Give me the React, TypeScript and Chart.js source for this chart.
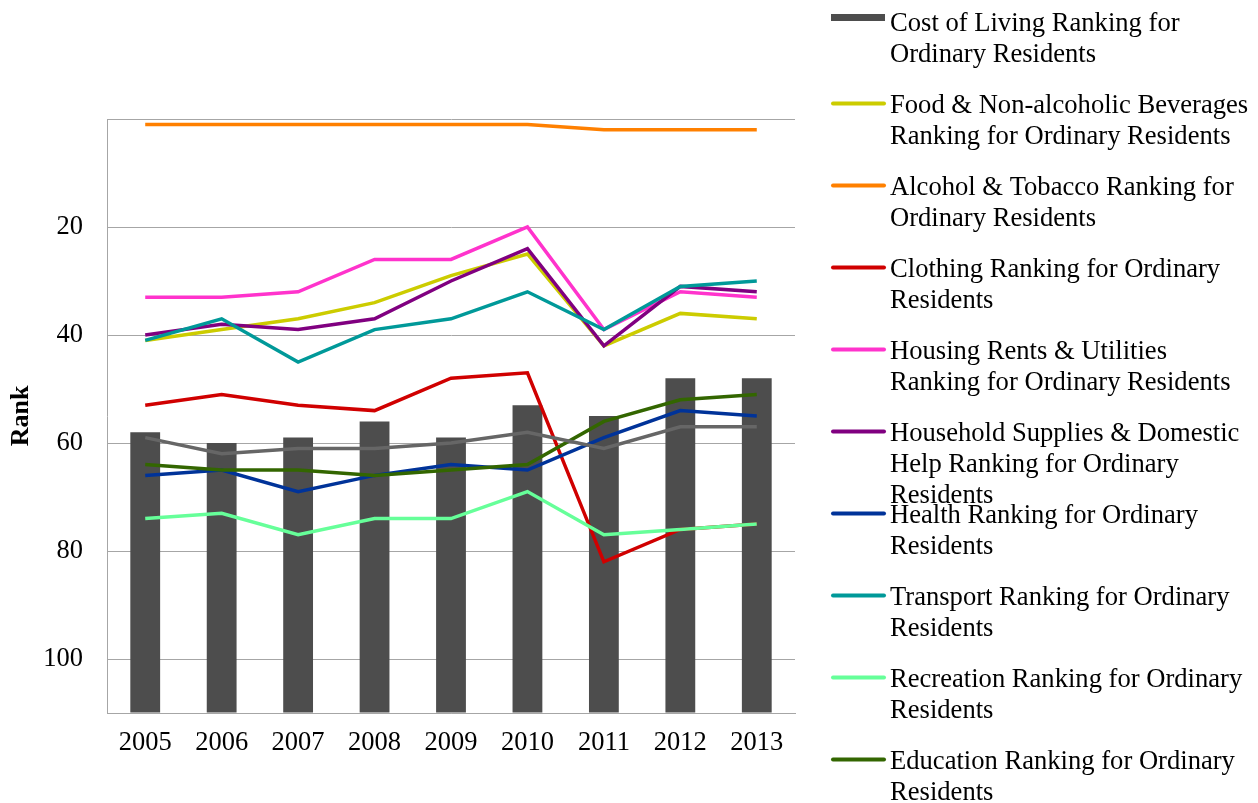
import React, { useEffect, useRef } from "react";
import { Chart, registerables } from "chart.js";

Chart.register(...registerables);

const years = ["2005", "2006", "2007", "2008", "2009", "2010", "2011", "2012", "2013"];

const costOfLiving = [58, 60, 59, 56, 59, 53, 55, 48, 48];
const foodBeverages = [41, 39, 37, 34, 29, 25, 42, 36, 37];
const alcoholTobacco = [1, 1, 1, 1, 1, 1, 2, 2, 2];
const clothing = [53, 51, 53, 54, 48, 47, 82, 76, 75];
const housingRents = [33, 33, 32, 26, 26, 20, 39, 32, 33];
const householdSupplies = [40, 38, 39, 37, 30, 24, 42, 31, 32];
const health = [66, 65, 69, 66, 64, 65, 59, 54, 55];
const transport = [41, 37, 45, 39, 37, 32, 39, 31, 30];
const recreation = [74, 73, 77, 74, 74, 69, 77, 76, 75];
const education = [64, 65, 65, 66, 65, 64, 56, 52, 51];
const miscellaneous = [59, 62, 61, 61, 60, 58, 61, 57, 57];

const rankMin = 0;
const rankMax = 110;
const rankStep = 20;

const legendLines: string[][] = [
  ["Cost of Living Ranking for", "Ordinary Residents"],
  ["Food & Non-alcoholic Beverages", "Ranking for Ordinary Residents"],
  ["Alcohol & Tobacco Ranking for", "Ordinary Residents"],
  ["Clothing Ranking for Ordinary", "Residents"],
  ["Housing Rents & Utilities", "Ranking for Ordinary Residents"],
  ["Household Supplies & Domestic", "Help Ranking for Ordinary", "Residents"],
  ["Health Ranking for Ordinary", "Residents"],
  ["Transport Ranking for Ordinary", "Residents"],
  ["Recreation Ranking for Ordinary", "Residents"],
  ["Education Ranking for Ordinary", "Residents"],
];

const FONT = "'Times New Roman', 'Liberation Serif', serif";

const lineSeries = [
  { label: legendLines[1].join(" "), data: foodBeverages, color: "#CCCC00", legend: 1 },
  { label: legendLines[2].join(" "), data: alcoholTobacco, color: "#FF8000", legend: 2 },
  { label: legendLines[3].join(" "), data: clothing, color: "#D00000", legend: 3 },
  { label: legendLines[4].join(" "), data: housingRents, color: "#FF33CC", legend: 4 },
  { label: legendLines[5].join(" "), data: householdSupplies, color: "#800080", legend: 5 },
  { label: legendLines[6].join(" "), data: health, color: "#003399", legend: 6 },
  { label: legendLines[7].join(" "), data: transport, color: "#009999", legend: 7 },
  { label: legendLines[8].join(" "), data: recreation, color: "#66FF99", legend: 8 },
  { label: legendLines[9].join(" "), data: education, color: "#336600", legend: 9 },
  { label: "Miscellaneous Ranking for Ordinary Residents", data: miscellaneous, color: "#666666", legend: -1 },
];

const sideLegend = {
  id: "sideLegend",
  afterDraw(chart: any) {
    const ctx = chart.ctx;
    ctx.save();
    ctx.font = `26.6px ${FONT}`;
    ctx.textBaseline = "alphabetic";
    ctx.textAlign = "left";
    chart.data.datasets.forEach((ds: any) => {
      const idx = ds.legendIndex;
      if (idx === undefined || idx < 0) return;
      const base = 31 + 82 * idx;
      if (ds.type === "bar") {
        ctx.fillStyle = ds.backgroundColor;
        ctx.fillRect(831, base - 17, 54, 7);
      } else {
        ctx.strokeStyle = ds.borderColor;
        ctx.lineWidth = 4;
        ctx.lineCap = "round";
        ctx.beginPath();
        ctx.moveTo(833, base - 9.5);
        ctx.lineTo(884, base - 9.5);
        ctx.stroke();
      }
      ctx.fillStyle = "#000000";
      legendLines[idx].forEach((t, k) => ctx.fillText(t, 890, base + 31 * k));
    });
    ctx.restore();
  },
};

export default function App() {
  const ref = useRef<HTMLCanvasElement>(null);

  useEffect(() => {
    if (!ref.current) return;
    const datasets: any[] = [
      {
        type: "bar",
        label: legendLines[0].join(" "),
        data: costOfLiving,
        base: rankMax,
        backgroundColor: "#4D4D4D",
        borderWidth: 0,
        barPercentage: 0.39,
        categoryPercentage: 1,
        order: 100,
        legendIndex: 0,
      },
      ...lineSeries.map((s, i) => ({
        type: "line",
        label: s.label,
        data: s.data,
        borderColor: s.color,
        backgroundColor: s.color,
        borderWidth: 3.5,
        pointRadius: 0,
        tension: 0,
        fill: false,
        order: 50 - i,
        legendIndex: s.legend,
      })),
    ];

    const chart = new Chart(ref.current, {
      type: "bar",
      data: { labels: years, datasets },
      options: {
        animation: false,
        responsive: true,
        maintainAspectRatio: false,
        layout: { padding: { top: 119, right: 463, left: 2, bottom: 0 } },
        plugins: {
          legend: { display: false },
          tooltip: { enabled: false },
        },
        scales: {
          x: {
            offset: true,
            grid: { display: false, drawTicks: false },
            border: { display: true, color: "#A6A6A6", width: 1 },
            ticks: { color: "#000000", font: { family: FONT, size: 26.5 }, padding: 14, maxRotation: 0 },
            afterFit: (scale: any) => {
              scale.height = 90;
            },
          },
          y: {
            reverse: true,
            min: rankMin,
            max: rankMax,
            grid: { color: "#A6A6A6", lineWidth: 1, drawTicks: false },
            border: { display: true, color: "#A6A6A6", width: 1 },
            ticks: {
              stepSize: rankStep,
              color: "#000000",
              font: { family: FONT, size: 26.5 },
              padding: 24,
              callback: (v: any) => (v === rankMin || v > 100 ? "" : String(v)),
            },
            title: {
              display: true,
              text: "Rank",
              color: "#000000",
              font: { family: FONT, size: 26, weight: "bold" },
              padding: { top: 4, bottom: 4 },
            },
            afterFit: (scale: any) => {
              scale.width = 105;
            },
          },
        },
      } as any,
      plugins: [sideLegend],
    });
    return () => chart.destroy();
  }, []);

  return (
    <div style={{ position: "fixed", left: 0, top: 0, width: 1258, height: 803, background: "#ffffff" }}>
      <canvas ref={ref} />
    </div>
  );
}
